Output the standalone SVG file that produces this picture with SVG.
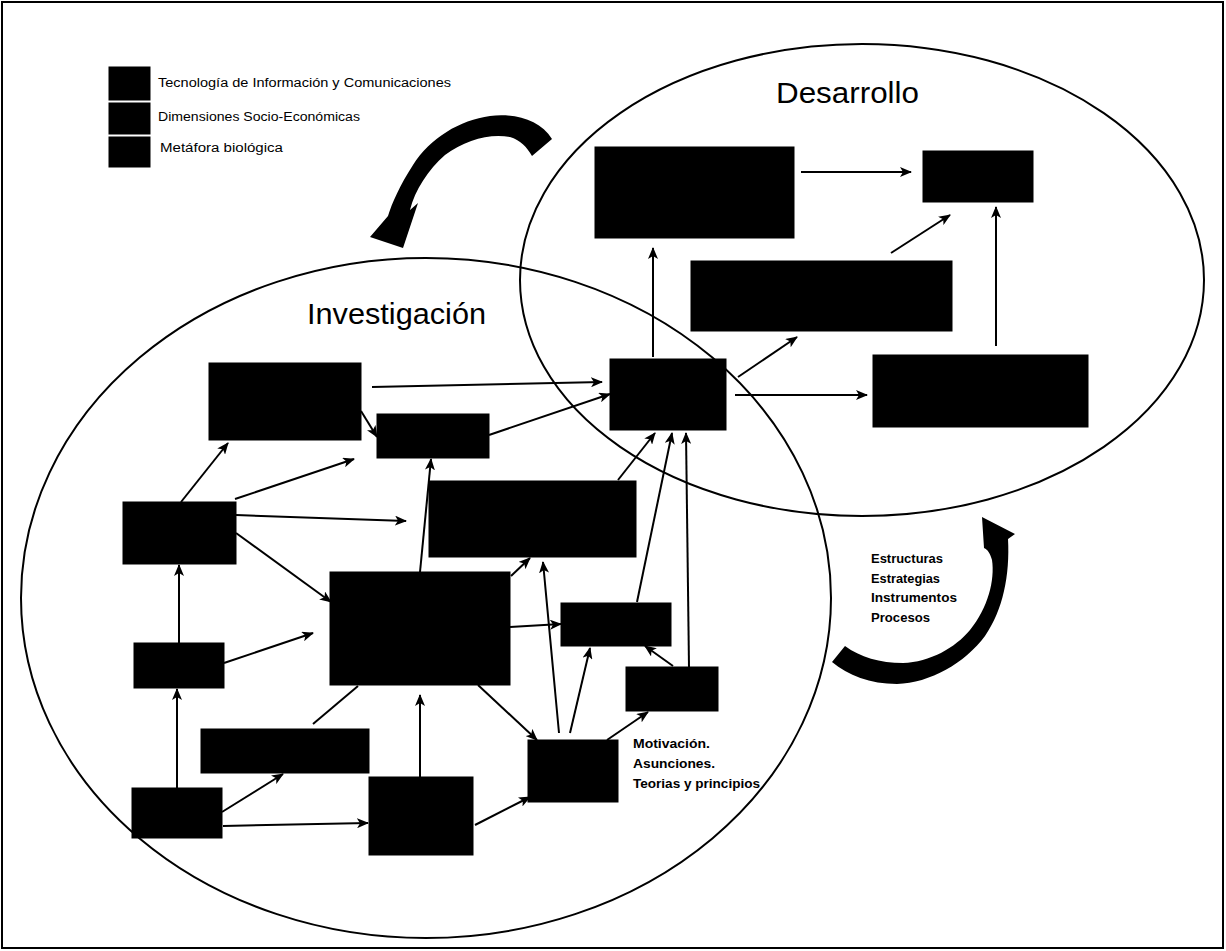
<svg xmlns="http://www.w3.org/2000/svg" width="1226" height="951" viewBox="0 0 1226 951">
  <style>
    .frame { fill: #ffffff; stroke: #000000; stroke-width: 2; }
    .domain { fill: none; stroke: #000000; stroke-width: 2; }
    .box { fill: #000000; stroke: #000000; stroke-width: 1; }
    .conn { fill: none; stroke: #000000; stroke-width: 2; }
    .head { marker-end: url(#arrow); }
    .bigarrow { fill: #000000; stroke: none; }
    .title { font-family: "Liberation Sans", Arial, sans-serif; font-size: 29px; fill: #000000; }
    .legend { font-family: "Liberation Sans", Arial, sans-serif; font-size: 12.5px; fill: #000000; }
    .note { font-family: "Liberation Sans", Arial, sans-serif; font-size: 12.5px; font-weight: bold; fill: #000000; }
  </style>
  <defs>
    <marker id="arrow" viewBox="0 0 12 10" refX="11" refY="5" markerWidth="12" markerHeight="10" markerUnits="userSpaceOnUse" orient="auto">
      <path d="M0,0 L12,5 L0,10 L3,5 Z" fill="#000000"/>
    </marker>
  </defs>

  <!-- page frame -->
  <rect class="frame" x="2" y="2" width="1221" height="946"/>

  <!-- legend -->
  <g id="legend">
    <rect class="box" x="109" y="67" width="41" height="33"/>
    <rect class="box" x="109" y="103" width="41" height="31"/>
    <rect class="box" x="109" y="137" width="41" height="30"/>
    <text class="legend" x="158" y="87" textLength="293" lengthAdjust="spacingAndGlyphs">Tecnología de Información y Comunicaciones</text>
    <text class="legend" x="158" y="121" textLength="202" lengthAdjust="spacingAndGlyphs">Dimensiones Socio-Económicas</text>
    <text class="legend" x="160" y="152" textLength="123" lengthAdjust="spacingAndGlyphs">Metáfora biológica</text>
  </g>

  <!-- the two domains -->
  <g id="domains">
    <ellipse id="desarrollo" class="domain" cx="862" cy="280" rx="342" ry="236"/>
    <ellipse id="investigacion" class="domain" cx="426" cy="598" rx="405" ry="340"/>
    <text class="title" x="776" y="103" textLength="143" lengthAdjust="spacingAndGlyphs">Desarrollo</text>
    <text class="title" x="307" y="324" textLength="179" lengthAdjust="spacingAndGlyphs">Investigación</text>
  </g>

  <!-- cycle arrows between the domains -->
  <g id="cycle">
    <path class="bigarrow" d="M552,139 C540,120 515,113 490,116 C460,120 430,138 413,165 C400,185 392,203 388,216 L370,237 L403,248 L418,203 L410,210 C415,190 428,170 445,155 C465,140 490,133 510,137 C520,140 527,147 532,156 Z"/>
    <path class="bigarrow" d="M982,517 L1015,534 L1008,539 C1010,575 1003,610 985,636 C965,663 930,683 897,684 C870,684 848,675 832,662 L845,646 C860,657 880,663 903,663 C930,662 955,648 970,630 C988,608 995,580 992,560 C990,553 988,550 984,548 Z"/>
    <text class="note" x="871" y="563" textLength="72" lengthAdjust="spacingAndGlyphs">Estructuras</text>
    <text class="note" x="871" y="583" textLength="69" lengthAdjust="spacingAndGlyphs">Estrategias</text>
    <text class="note" x="871" y="602" textLength="86" lengthAdjust="spacingAndGlyphs">Instrumentos</text>
    <text class="note" x="871" y="622" textLength="59" lengthAdjust="spacingAndGlyphs">Procesos</text>
  </g>

  <!-- connectors -->
  <g id="connectors">
    <line class="conn head" x1="801" y1="172" x2="911" y2="172"/>
    <line class="conn head" x1="653" y1="357" x2="653" y2="248"/>
    <line class="conn head" x1="738" y1="377" x2="797" y2="337"/>
    <line class="conn head" x1="891" y1="253" x2="950" y2="215"/>
    <line class="conn head" x1="996" y1="346" x2="996" y2="207"/>
    <line class="conn head" x1="735" y1="395" x2="867" y2="395"/>
    <line class="conn head" x1="372" y1="387" x2="602" y2="382"/>
    <line class="conn head" x1="489" y1="435" x2="610" y2="394"/>
    <line class="conn head" x1="361" y1="411" x2="377" y2="437"/>
    <line class="conn head" x1="181" y1="502" x2="228" y2="443"/>
    <line class="conn head" x1="235" y1="499" x2="354" y2="459"/>
    <line class="conn head" x1="236" y1="515" x2="406" y2="521"/>
    <line class="conn head" x1="236" y1="533" x2="331" y2="602"/>
    <line class="conn head" x1="179" y1="643" x2="179" y2="565"/>
    <line class="conn head" x1="224" y1="663" x2="313" y2="633"/>
    <line class="conn head" x1="177" y1="788" x2="177" y2="689"/>
    <line class="conn head" x1="222" y1="812" x2="283" y2="774"/>
    <line class="conn head" x1="223" y1="826" x2="368" y2="823"/>
    <line class="conn head" x1="420" y1="777" x2="420" y2="695"/>
    <line class="conn" x1="358" y1="686" x2="313" y2="724"/>
    <line class="conn head" x1="475" y1="825" x2="530" y2="797"/>
    <line class="conn head" x1="478" y1="685" x2="537" y2="740"/>
    <line class="conn head" x1="511" y1="576" x2="530" y2="558"/>
    <line class="conn head" x1="420" y1="572" x2="431" y2="459"/>
    <line class="conn head" x1="510" y1="627" x2="561" y2="624"/>
    <line class="conn head" x1="559" y1="733" x2="543" y2="562"/>
    <line class="conn head" x1="570" y1="733" x2="590" y2="648"/>
    <line class="conn head" x1="607" y1="740" x2="648" y2="712"/>
    <line class="conn head" x1="673" y1="666" x2="645" y2="646"/>
    <line class="conn head" x1="637" y1="602" x2="672" y2="433"/>
    <line class="conn head" x1="689" y1="667" x2="686" y2="433"/>
    <line class="conn head" x1="618" y1="480" x2="655" y2="433"/>
  </g>

  <!-- nodes: Desarrollo -->
  <g id="n-b1"><rect class="box" x="595" y="147" width="199" height="91"/></g>
  <g id="n-b2"><rect class="box" x="923" y="151" width="110" height="51"/></g>
  <g id="n-b3"><rect class="box" x="691" y="261" width="261" height="70"/></g>
  <g id="n-b4"><rect class="box" x="873" y="355" width="215" height="72"/></g>
  <g id="n-b5"><rect class="box" x="610" y="359" width="116" height="71"/></g>

  <!-- nodes: Investigación -->
  <g id="n-b6"><rect class="box" x="209" y="363" width="152" height="77"/></g>
  <g id="n-b7"><rect class="box" x="377" y="414" width="112" height="44"/></g>
  <g id="n-b8"><rect class="box" x="429" y="481" width="207" height="76"/></g>
  <g id="n-b9"><rect class="box" x="123" y="502" width="113" height="62"/></g>
  <g id="n-b10"><rect class="box" x="330" y="572" width="180" height="113"/></g>
  <g id="n-b11"><rect class="box" x="561" y="603" width="110" height="43"/></g>
  <g id="n-b12"><rect class="box" x="134" y="643" width="90" height="45"/></g>
  <g id="n-b13"><rect class="box" x="626" y="667" width="92" height="44"/></g>
  <g id="n-b14"><rect class="box" x="201" y="729" width="168" height="44"/></g>
  <g id="n-b15"><rect class="box" x="132" y="788" width="90" height="50"/></g>
  <g id="n-b16"><rect class="box" x="369" y="777" width="104" height="78"/></g>
  <g id="n-b17"><rect class="box" x="528" y="740" width="90" height="62"/></g>

  <g id="n-motivacion">
    <text class="note" x="633" y="748" textLength="77" lengthAdjust="spacingAndGlyphs">Motivación.</text>
    <text class="note" x="633" y="768" textLength="82" lengthAdjust="spacingAndGlyphs">Asunciones.</text>
    <text class="note" x="633" y="788" textLength="127" lengthAdjust="spacingAndGlyphs">Teorias y principios</text>
  </g>
</svg>
